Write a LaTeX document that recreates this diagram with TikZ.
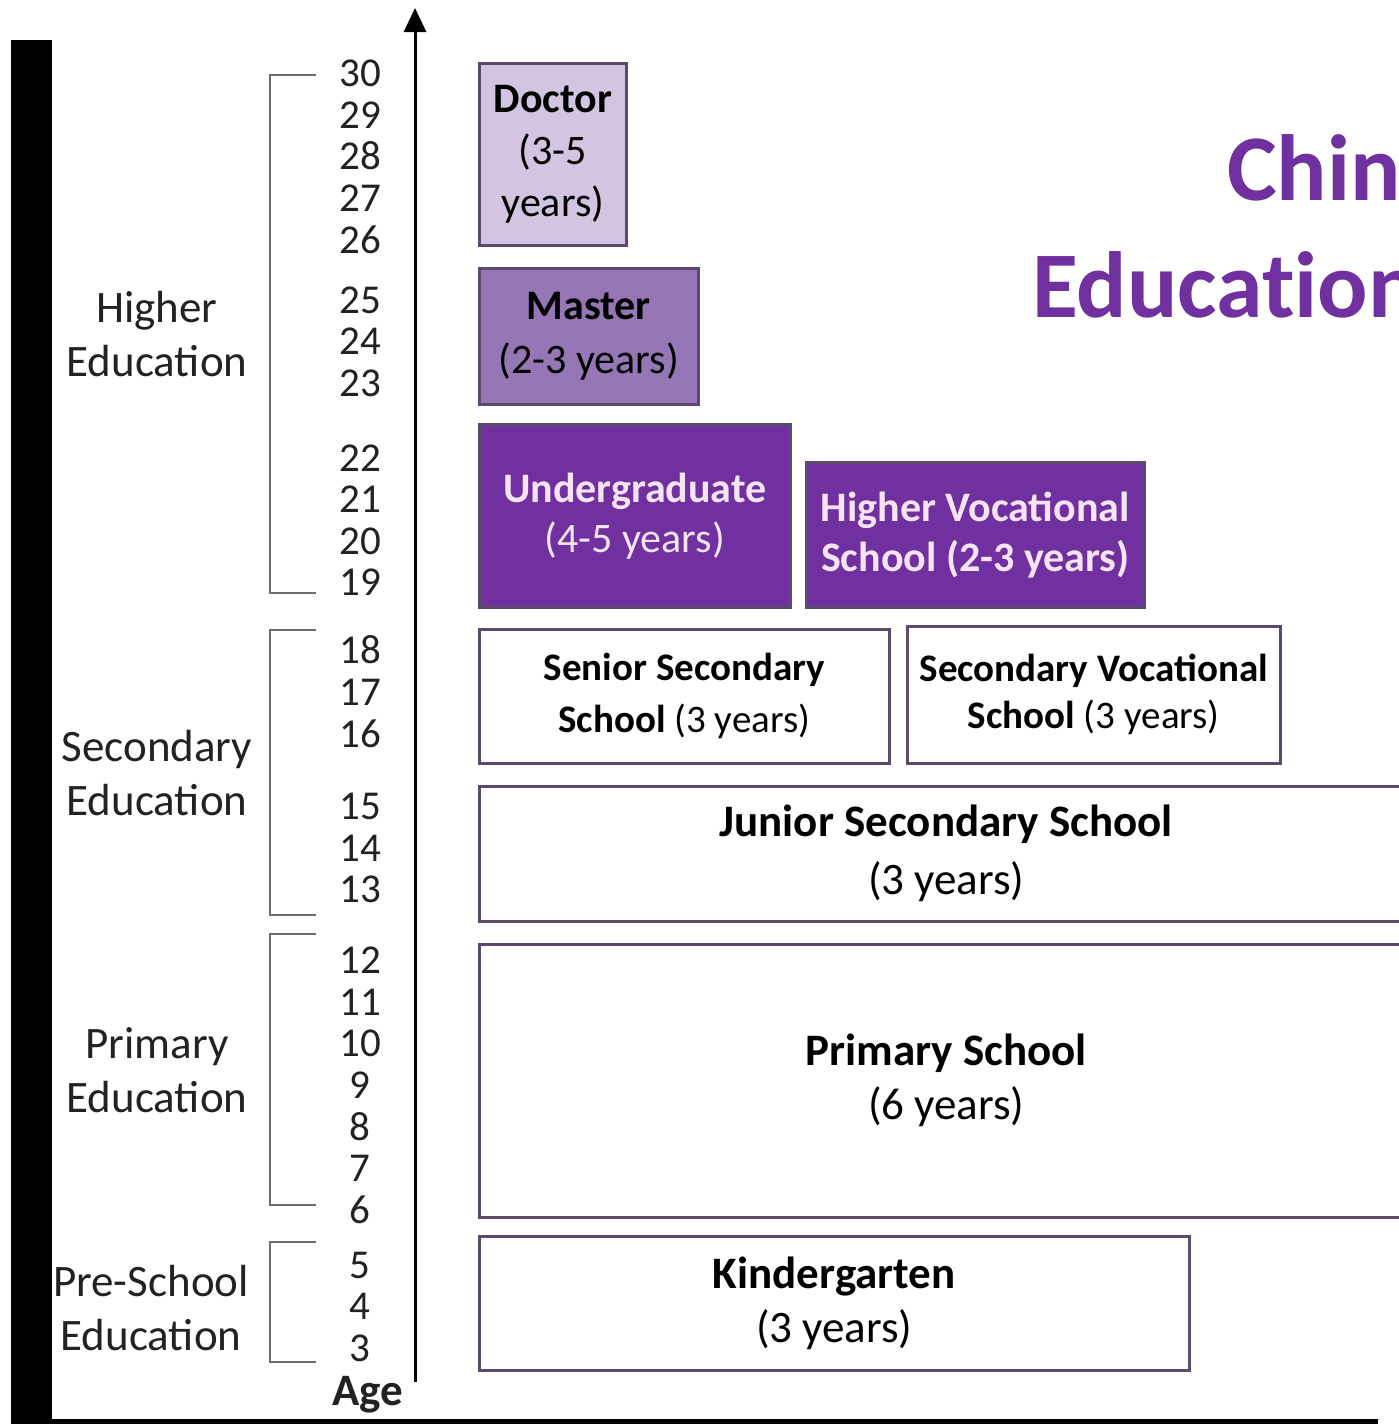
\documentclass[tikz,border=0pt]{standalone}
\usepackage{fontspec}
\setmainfont{Carlito}
\newfontfamily\titlefont[Ligatures={NoCommon}]{Carlito}
\usetikzlibrary{arrows.meta}
\definecolor{titlepurple}{HTML}{7030A0}
\definecolor{deeppurple}{HTML}{7030A0}
\definecolor{midpurple}{HTML}{9677B6}
\definecolor{lightpurple}{HTML}{D3C5E2}
\definecolor{boxline}{HTML}{5C4A6C}
\definecolor{paletext}{HTML}{F6E4F4}
\definecolor{brackgray}{HTML}{6E6E6E}
\definecolor{inkgray}{HTML}{222222}
\begin{document}
\begin{tikzpicture}[x=1pt,y=-1pt,
  boxnode/.style={draw=boxline, line width=2.6pt, anchor=north west, inner sep=0pt, align=center, font=\fontsize{42}{52}\selectfont},
  agenum/.style={font=\fontsize{41}{41}\selectfont, text=inkgray, inner sep=0pt},
  grouplabel/.style={font=\fontsize{45}{54}\selectfont, text=inkgray, align=center, inner sep=0pt},
  bracket/.style={draw=brackgray, line width=2pt},
  titletext/.style={font=\titlefont\fontsize{94}{100}\selectfont\bfseries, text=titlepurple, anchor=base west, inner sep=0pt}
]
\useasboundingbox (0,0) rectangle (1399,1424);
\fill[white] (0,0) rectangle (1399,1424);
\begin{scope}
\clip (0,0) rectangle (1399,1424);

% black frame parts
\fill[black] (11,40) rectangle (52,1424);
\fill[black] (11,1419) rectangle (1378,1424);

% title
\node[titletext] (title1) at (1227,200) {Chin};
\node[titletext] (title2) at (1032,317) {Education};

% age axis
\coordinate (axisbot) at (415,1382);
\coordinate (axistop) at (415,8);
\draw[line width=3pt, -{Triangle[length=24pt,width=22pt]}] (axisbot) -- (axistop);

% ages
\foreach \a/\y in {30/73,29/115,28/156,27/198,26/240,25/300,24/341,23/383,22/458,21/499,20/541,19/582,18/650,17/692,16/734,15/806,14/848,13/889,12/960,11/1002,10/1043,9/1085,8/1127,7/1168,6/1210,5/1265,4/1306,3/1348}
  \node[agenum] (age\a) at (360,\y) {\a};
\node[agenum, font=\fontsize{45}{45}\selectfont\bfseries, anchor=base] (agelabel) at (368,1405) {Age};

% brackets
\draw[bracket] (316,75) -- (270,75) -- (270,593) -- (316,593);
\draw[bracket] (316,630) -- (270,630) -- (270,915) -- (316,915);
\draw[bracket] (316,934) -- (270,934) -- (270,1205) -- (316,1205);
\draw[bracket] (316,1242) -- (270,1242) -- (270,1362) -- (316,1362);

% group labels
\node[grouplabel] (lhigher) at (157,334) {Higher\\Education};
\node[grouplabel] (lsecondary) at (157,773) {Secondary\\Education};
\node[grouplabel] (lprimary) at (157,1070) {Primary\\Education};
\node[grouplabel] (lpre) at (151,1308) {Pre-School\\Education};

% boxes
\node[boxnode, fill=lightpurple, minimum width=147pt, minimum height=182pt] (doctor) at (478,62)
  {\textbf{Doctor}\\(3-5\\years)};
\node[boxnode, fill=midpurple, minimum width=219pt, minimum height=136pt, font=\fontsize{42}{54}\selectfont] (master) at (478,267)
  {\textbf{Master}\\(2-3 years)};
\node[boxnode, fill=deeppurple, text=paletext, minimum width=311pt, minimum height=183pt, font=\fontsize{42}{50}\selectfont] (undergrad) at (478,423)
  {\textbf{Undergraduate}\\(4-5 years)};
\node[boxnode, fill=deeppurple, text=paletext, minimum width=338pt, minimum height=145pt, font=\fontsize{42}{50}\selectfont\bfseries] (hvs) at (805,461)
  {Higher Vocational\\School (2-3 years)};
\node[boxnode, fill=white, minimum width=410pt, minimum height=134pt, font=\fontsize{39}{52}\selectfont] (senior) at (478,628)
  {\textbf{Senior Secondary}\\\textbf{School} (3 years)};
\node[boxnode, fill=white, minimum width=373pt, minimum height=137pt, font=\fontsize{39}{47}\selectfont] (secvoc) at (906,625)
  {\textbf{Secondary Vocational}\\\textbf{School} (3 years)};
\node[boxnode, fill=white, minimum width=934pt, minimum height=135pt, font=\fontsize{45}{58}\selectfont] (junior) at (478,785)
  {\textbf{Junior Secondary School}\\(3 years)};
\node[boxnode, fill=white, minimum width=934pt, minimum height=273pt, font=\fontsize{45}{54}\selectfont] (primary) at (478,943)
  {\textbf{Primary School}\\(6 years)};
\node[boxnode, fill=white, minimum width=710pt, minimum height=134pt, font=\fontsize{45}{54}\selectfont] (kinder) at (478,1235)
  {\textbf{Kindergarten}\\(3 years)};
\end{scope}
\end{tikzpicture}
\end{document}
